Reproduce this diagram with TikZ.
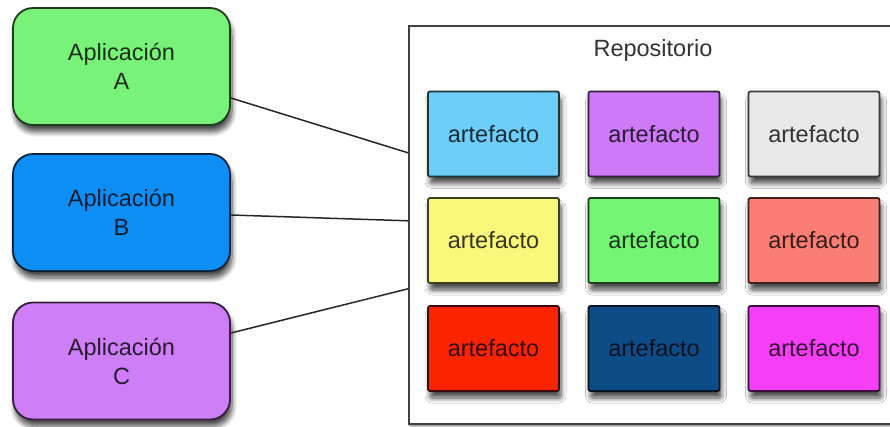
\documentclass[tikz,border=0pt]{standalone}
\usepackage{fontspec}
\setmainfont{Liberation Sans}
\usetikzlibrary{shadows.blur}

\definecolor{appA}{RGB}{120,242,120}
\definecolor{appB}{RGB}{12,142,245}
\definecolor{appC}{RGB}{206,126,246}
\definecolor{cLightBlue}{RGB}{110,206,250}
\definecolor{cPurple}{RGB}{206,122,246}
\definecolor{cGray}{RGB}{232,232,232}
\definecolor{cYellow}{RGB}{250,248,122}
\definecolor{cGreen}{RGB}{116,245,116}
\definecolor{cSalmon}{RGB}{250,126,116}
\definecolor{cRed}{RGB}{250,36,0}
\definecolor{cNavy}{RGB}{14,76,136}
\definecolor{cMagenta}{RGB}{245,62,245}

\tikzset{
  softshadow/.style={blur shadow={shadow xshift=2pt, shadow yshift=-7pt,
      shadow blur steps=8, shadow blur radius=5pt, shadow opacity=70}},
  appbox/.style={rectangle, rounded corners=20pt, line width=1.8pt,
      fill=#1, draw=#1!25!black, text=#1!20!black,
      minimum width=217pt, minimum height=117pt, align=center,
      softshadow},
  artbox/.style={rectangle, rounded corners=2pt, line width=1.8pt,
      fill=#1, draw=#1!25!black, text=#1!22!black,
      minimum width=131pt, minimum height=85pt, softshadow},
  link/.style={line width=1.5pt, draw=black!85},
}

\begin{document}
\begin{tikzpicture}[x=1pt, y=-1pt,
    every node/.style={font=\fontsize{23.5}{29}\selectfont}]
  \useasboundingbox (0,0) rectangle (890,427);

  % repository frame (runs past the right edge)
  \node[rectangle, draw=black!75, line width=1.6pt, fill=white,
        minimum width=500pt, minimum height=398pt, anchor=north west,
        blur shadow={shadow xshift=1pt, shadow yshift=-3pt, shadow opacity=40}]
        (repo) at (408,25) {};
  \node[text=black!80] (repotitle) at (653,50) {Repositorio};

  % client applications
  \node[appbox=appA] (A) at (121.5,66.5) {Aplicación\\A};
  \node[appbox=appB] (B) at (121.5,212.5) {Aplicación\\B};
  \node[appbox=appC] (C) at (121.5,361) {Aplicación\\C};

  % artifact grid
  \node[artbox=cLightBlue] (a11) at (493.5,134) {artefacto};
  \node[artbox=cPurple]    (a12) at (654,134)   {artefacto};
  \node[artbox=cGray]      (a13) at (814,134)   {artefacto};
  \node[artbox=cYellow]    (a21) at (493.5,240.5) {artefacto};
  \node[artbox=cGreen]     (a22) at (654,240.5)   {artefacto};
  \node[artbox=cSalmon]    (a23) at (814,240.5)   {artefacto};
  \node[artbox=cRed]       (a31) at (493.5,348.5) {artefacto};
  \node[artbox=cNavy]      (a32) at (654,348.5)   {artefacto};
  \node[artbox=cMagenta]   (a33) at (814,348.5)   {artefacto};

  % connections to the repository
  \draw[link] ([yshift=-31.5pt]A.east) -- ([yshift=72pt]repo.west);
  \draw[link] ([yshift=-2.5pt]B.east) -- ([yshift=4pt]repo.west);
  \draw[link] ([yshift=28pt]C.east) -- ([yshift=-64pt]repo.west);
\end{tikzpicture}
\end{document}
